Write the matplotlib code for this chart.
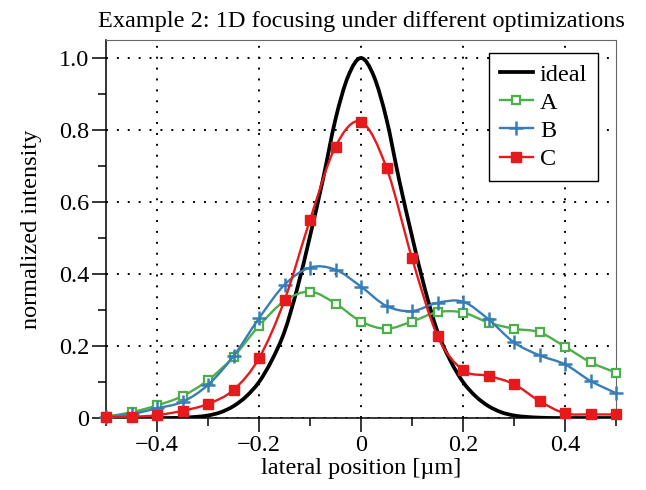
import numpy as np
import matplotlib
matplotlib.use("Agg")
import matplotlib.pyplot as plt
from matplotlib.path import Path
from matplotlib.patches import PathPatch
from matplotlib.lines import Line2D
from matplotlib.ticker import MultipleLocator, FuncFormatter

plt.rcParams['font.family'] = ['Liberation Serif', 'DejaVu Serif']

# sampled positions of the optimized profiles (um)
x_pos = np.round(np.arange(-0.5, 0.5001, 0.05), 3)

int_A = [0.004, 0.016, 0.035, 0.061, 0.105, 0.170, 0.256, 0.325, 0.351, 0.318,
         0.268, 0.248, 0.268, 0.294, 0.293, 0.265, 0.248, 0.238, 0.198, 0.155, 0.126]
int_B = [0.004, 0.011, 0.027, 0.045, 0.092, 0.172, 0.277, 0.370, 0.418, 0.412,
         0.365, 0.311, 0.297, 0.320, 0.323, 0.274, 0.210, 0.174, 0.149, 0.103, 0.069]
int_C = [0.002, 0.003, 0.008, 0.020, 0.039, 0.078, 0.166, 0.327, 0.550, 0.754,
         0.823, 0.695, 0.444, 0.228, 0.133, 0.117, 0.094, 0.047, 0.013, 0.010, 0.010]

# ideal focal spot, finer sampling (symmetric about 0)
x_ideal = np.round(np.arange(-0.5, 0.5001, 0.025), 3)
half_ideal = [1.0, 0.95, 0.83, 0.66, 0.505, 0.36, 0.24, 0.16, 0.10, 0.060,
              0.033, 0.016, 0.007, 0.003, 0.001, 0.0, 0.0, 0.0, 0.0, 0.0, 0.0]
int_ideal = half_ideal[:0:-1] + half_ideal

c_A = '#4daf4a'
c_B = '#377eb8'
c_C = '#e41a1c'

FS = 17.5


def smooth_path(x, y):
    # Catmull-Rom curve through the samples, as cubic Bezier segments
    p = np.column_stack([x, y]).astype(float)
    p = np.vstack([p[:1], p, p[-1:]])
    verts = [p[1]]
    codes = [Path.MOVETO]
    for i in range(1, len(p) - 2):
        c1 = p[i] + (p[i + 1] - p[i - 1]) / 6.0
        c2 = p[i + 1] - (p[i + 2] - p[i]) / 6.0
        verts += [c1, c2, p[i + 1]]
        codes += [Path.CURVE4] * 3
    return Path(verts, codes)


fig = plt.figure(figsize=(6.46, 4.90), dpi=100)
ax = fig.add_axes([106 / 646, 1 - 418 / 490, 510 / 646, 378 / 490])

ax.add_patch(PathPatch(smooth_path(x_ideal, int_ideal), fc='none', ec='k',
                       lw=2.7, zorder=2))

series = [
    ('A', int_A, c_A, dict(marker='s', ms=6.2, mfc='white', mec=c_A, mew=1.6)),
    ('B', int_B, c_B, dict(marker='+', ms=9.5, mec=c_B, mew=1.8)),
    ('C', int_C, c_C, dict(marker='s', ms=7.2, mfc=c_C, mec=c_C, mew=1.0)),
]
handles = [Line2D([], [], color='k', lw=2.7)]
for k, (name, vals, col, mk) in enumerate(series):
    z = 3 + k
    ax.add_patch(PathPatch(smooth_path(x_pos, vals), fc='none', ec=col,
                           lw=1.7, zorder=z))
    ax.plot(x_pos, vals, ls='none', zorder=z + 0.5, clip_on=False, **mk)
    handles.append(Line2D([], [], color=col, lw=1.7, **mk))

ax.set_xlim(-0.5, 0.5)
ax.set_ylim(0, 1.05)

ax.xaxis.set_major_locator(MultipleLocator(0.2))
ax.xaxis.set_minor_locator(MultipleLocator(0.1))
ax.yaxis.set_major_locator(MultipleLocator(0.2))
ax.yaxis.set_minor_locator(MultipleLocator(0.1))


def fmt(v, pos):
    if abs(v) < 1e-9:
        return '0'
    return '%.1f' % v if v > 0 else '\u2212%.1f' % abs(v)


ax.xaxis.set_major_formatter(FuncFormatter(fmt))
ax.yaxis.set_major_formatter(FuncFormatter(fmt))
ax.tick_params(which='both', direction='out', width=1.1, labelsize=FS,
               top=False, right=False)
ax.tick_params(which='major', length=10, pad=2)
ax.tick_params(which='minor', length=6)

ax.grid(True, which='major', color='k', ls=(0, (1, 4.6)), lw=1.4)

for s in ['left', 'bottom']:
    ax.spines[s].set_linewidth(1.1)
for s in ['top', 'right']:
    ax.spines[s].set_linewidth(0.8)
    ax.spines[s].set_color('#666666')

ax.set_xlabel('lateral position [\u00b5m]', fontsize=FS, labelpad=2)
ax.set_ylabel('normalized intensity', fontsize=FS, labelpad=12)
ax.set_title('Example 2: 1D focusing under different optimizations',
             fontsize=FS, pad=9)

leg = ax.legend(handles, ['ideal', 'A', 'B', 'C'], loc='upper right',
                bbox_to_anchor=(0.965, 0.966), borderaxespad=0, fontsize=FS,
                fancybox=False, framealpha=1, edgecolor='k', numpoints=1,
                handlelength=1.35, handletextpad=0.3, labelspacing=0.25,
                borderpad=0.45)
leg.get_frame().set_linewidth(1.0)
leg.set_zorder(10)

fig.savefig('out.png', dpi=100)
